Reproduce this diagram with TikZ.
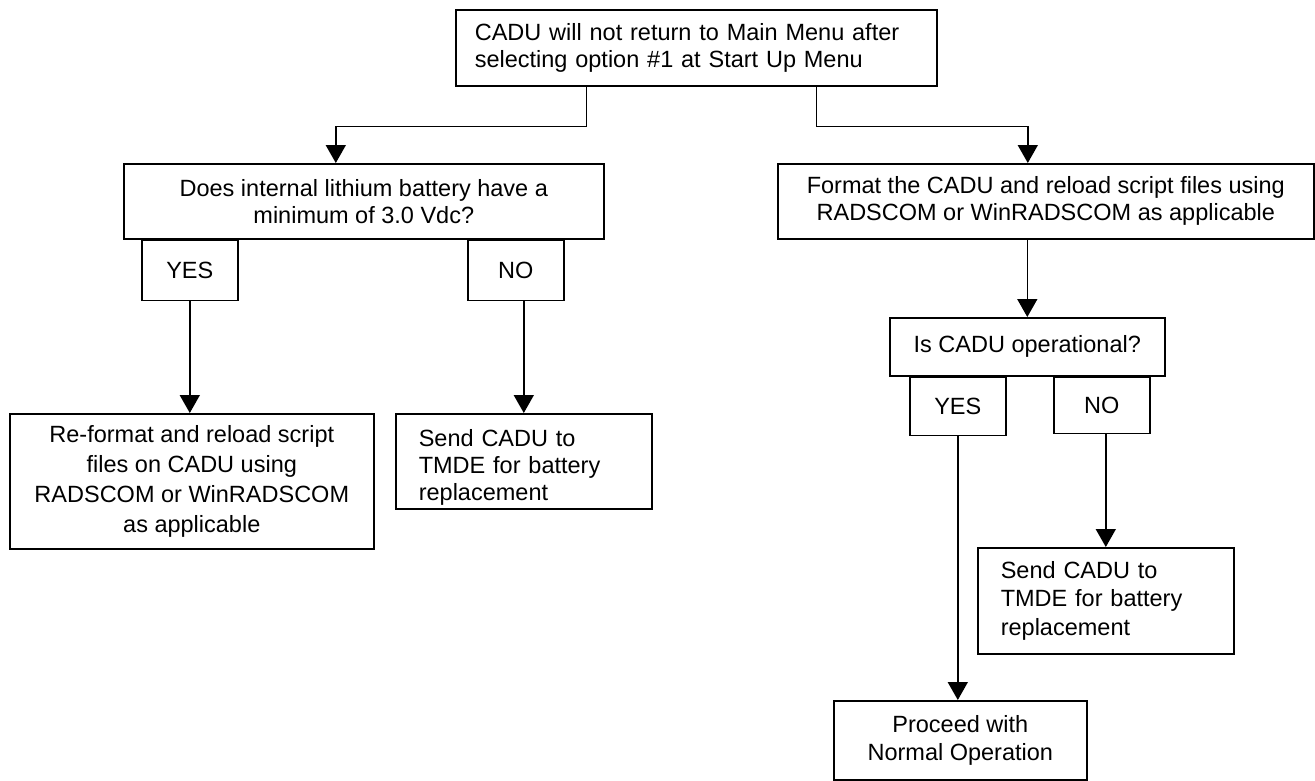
\documentclass[tikz,border=0pt]{standalone}
\usepackage{fontspec}
\setmainfont{Liberation Sans}
\usetikzlibrary{positioning,arrows.meta}

\begin{document}
\begin{tikzpicture}[x=1pt, y=-1pt,
    box/.style={draw=black, line width=1.6pt, fill=white, inner sep=0pt, anchor=north west,
      align=center, font=\fontsize{23.5}{27}\selectfont},
    note/.style={box, align=left, text width=210pt, minimum width=256pt},
    tab/.style={box, minimum width=96pt, minimum height=60pt},
    flow/.style={-{Triangle[length=18pt,width=20pt]}, line width=1.6pt, draw=black},
  ]
  \useasboundingbox (0,0) rectangle (1315,780);

  % ---------------------------------------------------------------- top
  \node[box, align=left, text width=443pt, minimum width=481pt, minimum height=76pt] (start) at (455,9)
    {CADU will not return to Main Menu after\\selecting option \#1 at Start Up Menu};

  % ------------------------------------------------------------ left branch
  \node[box, minimum width=480pt, minimum height=75pt] (battery) at (123,163)
    {Does internal lithium battery have a\\minimum of 3.0 Vdc?};
  \node[tab] (yesA) at ([xshift=18pt]battery.south west) {YES};
  \node[tab, anchor=north east] (noA) at ([xshift=-40pt]battery.south east) {NO};
  \node[box, minimum width=364pt, minimum height=135pt, font=\fontsize{23.5}{30}\selectfont] (reformat) at (9,413)
    {Re-format and reload script\\files on CADU using\\RADSCOM or WinRADSCOM\\as applicable};
  \node[note, minimum height=95pt] (sendA) at (395,413)
    {\rule{0pt}{30pt}Send CADU to\\TMDE for battery\\replacement};

  % ----------------------------------------------------------- right branch
  \node[box, minimum width=536pt, minimum height=75pt] (format) at (777,163)
    {Format the CADU and reload script files using\\RADSCOM or WinRADSCOM as applicable};
  \node[box, minimum width=275pt, minimum height=58pt] (operational) at (889,317) {Is CADU operational?};
  \node[tab, minimum height=58pt] (yesB) at ([xshift=20pt]operational.south west) {YES};
  \node[tab, minimum height=56pt, anchor=north east] (noB) at ([xshift=-15pt]operational.south east) {NO};
  \node[note, minimum height=106pt, font=\fontsize{23.5}{28.5}\selectfont] (sendB) at (977,547)
    {Send CADU to\\TMDE for battery\\replacement};
  \node[box, minimum width=253pt, minimum height=79pt, font=\fontsize{23.5}{28.5}\selectfont] (proceed) at (833,700)
    {Proceed with\\Normal Operation};

  % ------------------------------------------------------------------ arrows
  \draw[flow] ([xshift=-110pt]start.south) -- ++(0,40) -| ([xshift=-28pt]battery.north);
  \draw[flow] ([xshift=120pt]start.south) -- ++(0,40) -| ([xshift=-18pt]format.north);
  \draw[flow] (yesA.south) -- (yesA.south |- reformat.north);
  \draw[flow] (sendA.north |- noA.south) -- (sendA.north);
  \draw[flow] (operational.north |- format.south) -- (operational.north);
  \draw[flow] (yesB.south) -- (yesB.south |- proceed.north);
  \draw[flow] (sendB.north |- noB.south) -- (sendB.north);
\end{tikzpicture}
\end{document}
